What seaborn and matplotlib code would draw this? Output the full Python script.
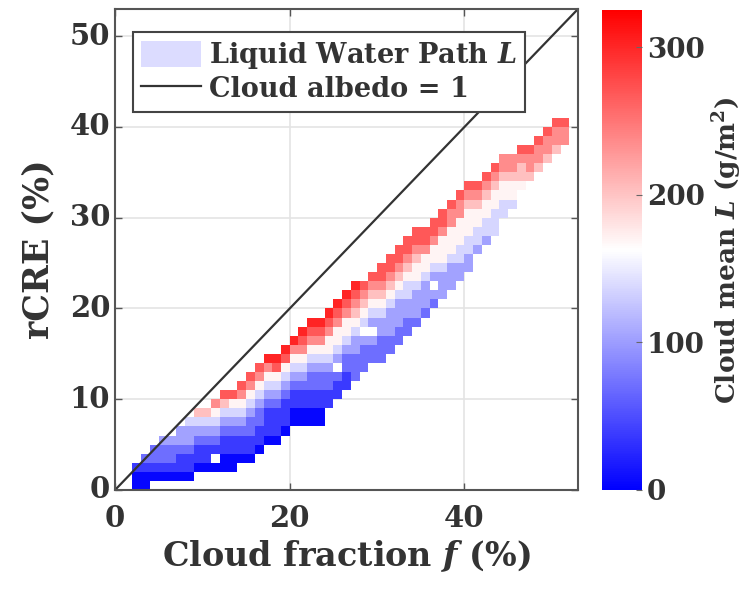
import numpy as np
import pandas as pd
import seaborn as sns
import matplotlib
matplotlib.use("Agg")
import matplotlib.pyplot as plt
from matplotlib.patches import Patch

# cloud fraction bins (1 % wide, left edge) that hold data
col_x = list(range(2, 52))
# lowest rCRE bin (1 % wide) of each column
col_lo = [0, 0, 1, 1, 1, 1, 1, 2, 2, 2,
          2, 2, 3, 3, 4, 5, 5, 6, 7, 7,
          7, 7, 9, 10, 11, 12, 13, 14, 14, 15,
          16, 17, 18, 19, 20, 21, 22, 23, 24, 26,
          27, 28, 30, 31, 33, 34, 35, 36, 37, 38]
# mean L level per bin, bottom to top ("." = no data)
col_L = ["001", "0012", "0122", "01223", "01223", "011233", "0112334", "0112346", "0112346", "0.123457",
         "001123468", "001123458", "011234578", "0112234578", "0112234578", "0111234579", "0111234589",
         "0111234589", "0011234579", "00112345789",
         "001122345789", "001122345789", "11223455789", "112.3455789", "11223455789", "22233456789", "2223.45678",
         "223.345678", "22233456788", "22333456788",
         "22333456788", "22334456788", "23334556788", "2333455788", "23.3455788", "3334555788", "3334555778",
         "3344555778", "3344555678", "34455678",
         "34455678", "44455678", "4455677", "455677", "56678", "6778", "6778", "6778", "6778", "778"]
level_L = [5, 38, 71, 104, 137, 170, 203, 236, 269, 302]  # g/m2 for level 0..9

ax_ticks_x = [0, 20, 40]
ax_ticks_y = [0, 10, 20, 30, 40, 50]
cb_ticks = [0, 100, 200, 300]

# build the grid (rows = rCRE bin, cols = cloud fraction bin)
n = 53
grid = np.full((n, n), np.nan)
for x, lo, s in zip(col_x, col_lo, col_L):
    for k, c in enumerate(s):
        if c != ".":
            grid[lo + k, x] = level_L[int(c)]
df = pd.DataFrame(grid)

plt.rcParams['font.family'] = 'DejaVu Serif'
plt.rcParams['font.weight'] = 'bold'
plt.rcParams['axes.labelweight'] = 'bold'
plt.rcParams['mathtext.fontset'] = 'custom'
plt.rcParams['mathtext.it'] = 'DejaVu Serif:italic:bold'
plt.rcParams['mathtext.rm'] = 'DejaVu Serif:bold'
plt.rcParams['mathtext.bf'] = 'DejaVu Serif:bold'

fig = plt.figure(figsize=(7.44, 5.91), dpi=100)
ax = fig.add_axes([0.1546, 0.1709, 0.6223, 0.8139])
cax = fig.add_axes([0.809, 0.1709, 0.0538, 0.812])

sns.heatmap(df, cmap='bwr', vmin=0, vmax=325, ax=ax, cbar_ax=cax, linewidths=0)
ax.set_xlim(0, n)
ax.set_ylim(0, n)
ax.set_axisbelow(True)
ax.grid(True, color='#e4e4e4', lw=1.2)

line, = ax.plot([0, n], [0, n], color='#333333', lw=1.6)

ax.set_xticks(ax_ticks_x)
ax.set_xticklabels([str(t) for t in ax_ticks_x], rotation=0)
ax.set_yticks(ax_ticks_y)
ax.set_yticklabels([str(t) for t in ax_ticks_y], rotation=0)
ax.tick_params(direction='in', top=True, right=True, length=5, width=1, color='#555555',
               labelsize=21, labelcolor='#333333')
ax.tick_params(axis='x', pad=10)
for sp in ax.spines.values():
    sp.set_visible(True)
    sp.set_color('#555555')
    sp.set_linewidth(1.5)

ax.set_xlabel('Cloud fraction $f$ (%)', fontsize=24, color='#333333', labelpad=4)
ax.set_ylabel('rCRE (%)', fontsize=25, color='#333333', labelpad=10)

leg = ax.legend([Patch(facecolor='#dcdcff', edgecolor='none'), line],
                ['Liquid Water Path $L$', 'Cloud albedo = 1'],
                loc='upper left', bbox_to_anchor=(0.039, 0.952), borderaxespad=0,
                fancybox=False, framealpha=1, edgecolor='#444444', fontsize=19.5,
                handlelength=2.2, handleheight=1.1, handletextpad=0.3, labelspacing=0.15,
                borderpad=0.3)
leg.get_frame().set_linewidth(1.5)
for t in leg.get_texts():
    t.set_color('#333333')

cb = ax.collections[0].colorbar
cb.set_ticks(cb_ticks)
cb.ax.tick_params(direction='in', length=4, labelsize=20, labelcolor='#333333', color='#666666')
cb.outline.set_edgecolor('#999999')
cb.set_label('Cloud mean $L$ (g/m$^2$)', fontsize=19, color='#333333')
cb.ax.yaxis.set_label_coords(2.72, 0.5)

fig.savefig('out.png', dpi=100)
